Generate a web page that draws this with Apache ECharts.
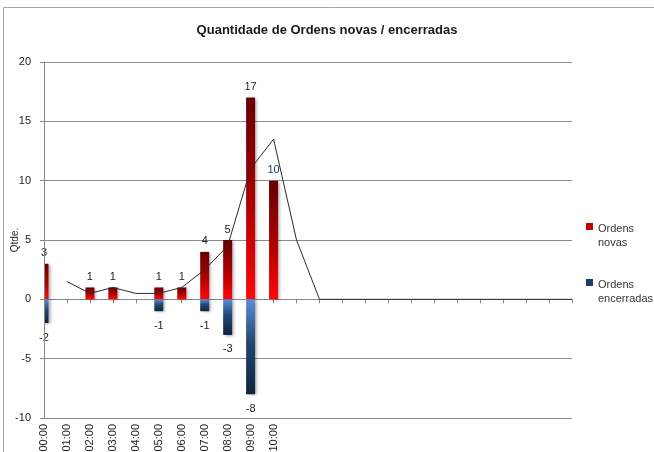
<!DOCTYPE html>
<html>
<head>
<meta charset="utf-8">
<script src="https://cdn.jsdelivr.net/npm/echarts@6/dist/echarts.min.js"></script>
<style>
  html, body { margin: 0; padding: 0; background: #fff; }
  #chart { width: 654px; height: 452px; }
</style>
</head>
<body>
<div id="chart"></div>
<script>
const hours = ['00:00', '01:00', '02:00', '03:00', '04:00', '05:00', '06:00', '07:00',
  '08:00', '09:00', '10:00', '11:00', '12:00', '13:00', '14:00', '15:00',
  '16:00', '17:00', '18:00', '19:00', '20:00', '21:00', '22:00', '23:00']
const tickLabels = ['00:00', '01:00', '02:00', '03:00', '04:00', '05:00', '06:00', '07:00',
  '08:00', '09:00', '10:00', '', '', '', '', '', '', '', '', '', '', '', '', '']
const novas = [3, 0, 1, 1, 0, 1, 1, 4, 5, 17, 10, 0, 0, 0, 0, 0, 0, 0, 0, 0, 0, 0, 0, 0]
const encerradas = [-2, 0, 0, 0, 0, -1, 0, -1, -3, -8, 0, 0, 0, 0, 0, 0, 0, 0, 0, 0, 0, 0, 0, 0]
// media movel (2 periodos) de novas
const media = [null, 1.5, 0.5, 1, 0.5, 0.5, 1, 2.5, 4.5, 11, 13.5, 5, 0, 0, 0, 0, 0, 0, 0, 0, 0, 0, 0, 0]

const font = '"Liberation Sans", Arial, sans-serif'
const chart = echarts.init(document.getElementById('chart'))

const redFill = new echarts.graphic.LinearGradient(0, 0, 0, 1, [
  { offset: 0, color: '#650000' },
  { offset: 0.55, color: '#b00000' },
  { offset: 1, color: '#ff0808' },
])
const blueFill = new echarts.graphic.LinearGradient(0, 0, 0, 1, [
  { offset: 0, color: '#5a8ed6' },
  { offset: 0.45, color: '#234872' },
  { offset: 1, color: '#10223e' },
])
const shadow = { shadowBlur: 3, shadowOffsetX: 2, shadowOffsetY: 1, shadowColor: 'rgba(0,0,0,0.35)' }

// quadrado no topo do item, para ficar alinhado com a primeira linha do texto
const legendIcon = 'path://M0,0L7,0L7,7L0,7Z M0,26L0.01,26'
const axisGray = '#868686'

chart.setOption({
  backgroundColor: '#fff',
  textStyle: { fontFamily: font },
  title: {
    text: 'Quantidade de Ordens novas / encerradas',
    left: 'center', top: 19,
    textStyle: { fontFamily: font, fontSize: 13, fontWeight: 'bold', color: '#1a1a1a' },
  },
  legend: {
    orient: 'vertical', left: 581, top: 217, itemGap: 28,
    itemWidth: 7, itemHeight: 26, icon: legendIcon,
    data: [
      { name: 'Ordens\nnovas', itemStyle: { color: '#c00000' } },
      { name: 'Ordens\nencerradas', itemStyle: { color: '#1f3b63' } },
    ],
    textStyle: { fontFamily: font, fontSize: 11, color: '#333', lineHeight: 14 },
  },
  grid: { left: 44, right: 82, top: 62, bottom: 34, containLabel: false, outerBoundsMode: 'none' },
  xAxis: [{
    type: 'category', data: hours, boundaryGap: false, position: 'bottom',
    axisLine: { show: false, onZero: false }, axisTick: { show: false },
    axisLabel: {
      rotate: 90, margin: 6, fontSize: 11, color: '#222', interval: 0,
      formatter: (v, i) => tickLabels[i],
    },
  }, {
    type: 'category', data: hours, boundaryGap: false, position: 'bottom',
    axisLine: { show: true, onZero: true, lineStyle: { color: axisGray } },
    axisTick: { show: true, length: 4, interval: 0, lineStyle: { color: axisGray } },
    axisLabel: { show: false },
  }],
  yAxis: [{
    // so as linhas de grade, por baixo das barras
    type: 'value', min: -10, max: 20, interval: 5, position: 'left',
    axisLine: { show: false }, axisTick: { show: false }, axisLabel: { show: false },
    splitLine: { lineStyle: { color: '#8c8c8c' } },
  }, {
    type: 'value', min: -10, max: 20, interval: 5, z: 4, position: 'left',
    name: 'Qtde.', nameLocation: 'middle', nameGap: 24, nameMoveOverlap: false,
    nameTextStyle: { fontFamily: font, fontSize: 10, color: '#222' },
    axisLine: { show: true, onZero: false, lineStyle: { color: axisGray } },
    axisTick: { show: true, length: 4, lineStyle: { color: axisGray } },
    axisLabel: { fontSize: 11, color: '#222', margin: 13 },
    splitLine: { show: false },
  }],
  series: [{
    name: 'Ordens\nnovas', type: 'bar', stack: 'q', barWidth: 9,
    data: novas.map((v, i) => i === 10
      ? { value: v, label: { color: '#1f3b6b' } }
      : v),
    itemStyle: { color: redFill, ...shadow },
    label: {
      show: true, position: 'top', distance: 5, fontSize: 11, color: '#222',
      formatter: (p) => (p.value ? p.value : ''),
    },
  }, {
    name: 'Ordens\nencerradas', type: 'bar', stack: 'q', barWidth: 9,
    data: encerradas,
    itemStyle: { color: blueFill, ...shadow },
    label: {
      show: true, position: 'bottom', distance: 9, fontSize: 11, color: '#222',
      formatter: (p) => (p.value ? p.value : ''),
    },
  }, {
    name: 'media', type: 'line', data: media, symbol: 'none',
    lineStyle: { color: '#2b2b2b', width: 1 }, z: 5,
  }],
})

// com boundaryGap false o ECharts nao corta a barra da primeira categoria;
// cobre a metade que sai para a esquerda do eixo
const x0 = chart.convertToPixel({ xAxisIndex: 0 }, 0)
const yTop = chart.convertToPixel({ yAxisIndex: 0 }, novas[0])
const yBot = chart.convertToPixel({ yAxisIndex: 0 }, encerradas[0])
chart.setOption({
  graphic: [{
    type: 'rect', z: -10, silent: true,
    shape: { x: 3.5, y: 7.5, width: 800, height: 600 },
    style: { fill: 'none', stroke: '#a6a6a6', lineWidth: 1 },
  }, {
    type: 'rect', z: 3, silent: true,
    shape: { x: x0 - 10, y: yTop - 3, width: 10, height: yBot - yTop + 7 },
    style: { fill: '#fff' },
  }],
})
</script>
</body>
</html>
